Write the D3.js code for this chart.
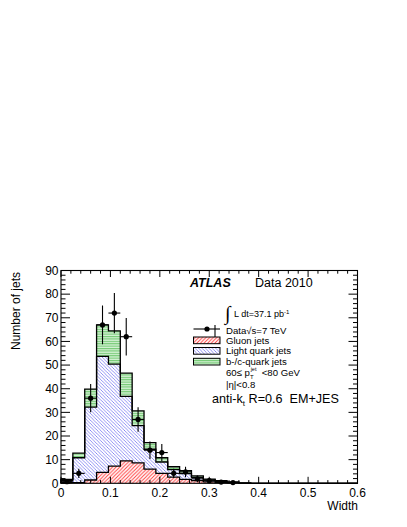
<!DOCTYPE html>
<html>
<head>
<meta charset="utf-8">
<script src="https://cdnjs.cloudflare.com/ajax/libs/d3/7.8.5/d3.min.js"></script>
<style>
  body { margin: 0; background: #fff; }
  svg text { font-family: "Liberation Sans", Arial, Helvetica, sans-serif; fill: #000; }
</style>
</head>
<body>
<div id="chart"></div>
<script>
// Jet width, 60 <= pT < 80 GeV, |eta| < 0.8
var binLow = [0, 0.024, 0.048, 0.072, 0.096, 0.12, 0.144, 0.168, 0.192, 0.216, 0.24, 0.264, 0.288,
              0.312, 0.336, 0.36, 0.384, 0.408, 0.432, 0.456, 0.48, 0.504, 0.528, 0.552, 0.576];
var binWidth = 0.024;

var gluon = [0.3, 0.3, 1.4, 4.6, 7.3, 9.5, 8.6, 6.0, 4.2, 2.6, 1.7, 1.1, 0.6,
             0.3, 0.15, 0, 0, 0, 0, 0, 0, 0, 0, 0, 0];
var lightQuark = [1.0, 10.5, 30.8, 49.1, 43.1, 27.3, 15.8, 8.4, 4.8, 3.2, 2.4, 1.4, 0.8,
                  0.5, 0.25, 0.1, 0, 0, 0, 0, 0, 0, 0, 0, 0];
var heavyQuark = [0.4, 2.0, 7.6, 13.3, 14.1, 9.8, 6.2, 2.8, 1.8, 1.2, 1.2, 0.6, 0.4,
                  0.3, 0.2, 0.1, 0, 0, 0, 0, 0, 0, 0, 0, 0];

var dataVals = [0.7, 4.2, 36, 67, 72, 62, 27, 14, 13, 4.2, 4.8, 1.9, 1.1,
                0.5, 0.3, 0, 0, 0, 0, 0, 0, 0, 0, 0, 0];
var dataErr = [0.8, 2.0, 6.0, 8.2, 8.5, 7.9, 5.2, 3.7, 3.6, 2.0, 2.2, 1.4, 1.0,
               0.7, 0.5, 0, 0, 0, 0, 0, 0, 0, 0, 0, 0];

var xMajor = [0, 0.1, 0.2, 0.3, 0.4, 0.5, 0.6];
var yMajor = [0, 10, 20, 30, 40, 50, 60, 70, 80, 90];

var width = 407, height = 527;
var padLeft = 61, padRight = 357.5, padTop = 270.5, padBottom = 483.3;

var svg = d3.select("#chart").append("svg")
    .attr("width", width)
    .attr("height", height);

var x = d3.scaleLinear().domain([0, 0.6]).range([padLeft, padRight]);
var y = d3.scaleLinear().domain([0, 90]).range([padBottom, padTop]);

// hatch patterns
var defs = svg.append("defs");
function hatch(id, color, dir, gap, sw) {
    var p = defs.append("pattern")
        .attr("id", id)
        .attr("patternUnits", "userSpaceOnUse")
        .attr("width", gap).attr("height", gap);
    p.append("rect").attr("width", gap).attr("height", gap).attr("fill", "#fff");
    var d;
    if (dir == "/") {
        d = "M0," + gap + "L" + gap + ",0M-1,1L1,-1M" + (gap - 1) + "," + (gap + 1) + "L" + (gap + 1) + "," + (gap - 1);
    } else {
        d = "M0,0L" + gap + "," + gap + "M-1," + (gap - 1) + "L1," + (gap + 1) + "M" + (gap - 1) + ",-1L" + (gap + 1) + ",1";
    }
    p.append("path").attr("d", d)
        .style("stroke", color).style("stroke-width", sw).style("fill", "none");
}
hatch("redHatch", "#ff3b3b", "/", 3.6, 0.95);
hatch("blueHatch", "#5656ec", "\\", 3.4, 0.65);

var gp = defs.append("pattern")
    .attr("id", "greenHatch")
    .attr("patternUnits", "userSpaceOnUse")
    .attr("width", 4).attr("height", 2.4);
gp.append("rect").attr("width", 4).attr("height", 2.4).attr("fill", "#d6f2d6");
gp.append("rect").attr("width", 4).attr("height", 1.1).attr("fill", "#72c972");

// stack gluon, light, heavy
var rows = binLow.map(function(b, i) {
    return {low: b, gluon: gluon[i], light: lightQuark[i], heavy: heavyQuark[i]};
});
var series = d3.stack().keys(["gluon", "light", "heavy"])(rows);

function steps(layer) {
    var pts = [];
    layer.forEach(function(d) {
        pts.push({x: d.data.low, y1: d[1]});
        pts.push({x: d.data.low + binWidth, y1: d[1]});
    });
    return pts;
}

var area = d3.area()
    .x(function(d) { return x(d.x); })
    .y0(function(d) { return y(0); })
    .y1(function(d) { return y(d.y1); });

var outline = d3.line()
    .x(function(d) { return x(d.x); })
    .y(function(d) { return y(d.y1); });

var fills = ["url(#redHatch)", "url(#blueHatch)", "url(#greenHatch)"];
var histG = svg.append("g");
// draw from top of stack down so lower layers cover upper ones
for (var k = series.length - 1; k >= 0; k--) {
    var pts = steps(series[k]);
    histG.append("path").attr("d", area(pts)).attr("fill", "#fff");
    histG.append("path").attr("d", area(pts)).attr("fill", fills[k]);
}
for (var k = series.length - 1; k >= 0; k--) {
    var pts = steps(series[k]);
    pts.unshift({x: 0, y1: 0});
    pts.push({x: 0.6, y1: 0});
    histG.append("path").attr("d", outline(pts))
        .attr("fill", "none")
        .attr("stroke", "#000")
        .attr("stroke-width", 1.3);
}

// data points
var pointRows = binLow.map(function(b, i) {
    return {c: b + binWidth / 2, v: dataVals[i], e: dataErr[i]};
}).filter(function(d) { return d.v > 0; });

var pG = svg.append("g").attr("stroke", "#000").attr("stroke-width", 1.1);
pG.selectAll("line.v").data(pointRows).enter().append("line")
    .attr("x1", function(d) { return x(d.c); })
    .attr("x2", function(d) { return x(d.c); })
    .attr("y1", function(d) { return y(Math.max(0, d.v - d.e)); })
    .attr("y2", function(d) { return y(d.v + d.e); });
pG.selectAll("line.h").data(pointRows).enter().append("line")
    .attr("x1", function(d) { return x(d.c - binWidth / 2); })
    .attr("x2", function(d) { return x(d.c + binWidth / 2); })
    .attr("y1", function(d) { return y(d.v); })
    .attr("y2", function(d) { return y(d.v); });
svg.append("g").selectAll("circle").data(pointRows).enter().append("circle")
    .attr("cx", function(d) { return x(d.c); })
    .attr("cy", function(d) { return y(d.v); })
    .attr("r", 2.6)
    .attr("fill", "#000");

// frame and ticks (ROOT style, inside, all four sides)
svg.append("rect")
    .attr("x", padLeft).attr("y", padTop)
    .attr("width", padRight - padLeft).attr("height", padBottom - padTop)
    .attr("fill", "none").attr("stroke", "#000").attr("stroke-width", 1.1);

var xMinor = d3.range(0, 61, 2).map(function(v) { return v / 100; });
var yMinor = d3.range(0, 91, 2);
var tickG = svg.append("g").attr("stroke", "#000").attr("stroke-width", 1);
xMinor.forEach(function(v) {
    var len = xMajor.some(function(m) { return Math.abs(m - v) < 1e-9; }) ? 6.5 : 3.2;
    tickG.append("line").attr("x1", x(v)).attr("x2", x(v)).attr("y1", padBottom).attr("y2", padBottom - len);
    tickG.append("line").attr("x1", x(v)).attr("x2", x(v)).attr("y1", padTop).attr("y2", padTop + len);
});
yMinor.forEach(function(v) {
    var len = v % 10 == 0 ? 9 : 4.5;
    tickG.append("line").attr("x1", padLeft).attr("x2", padLeft + len).attr("y1", y(v)).attr("y2", y(v));
    tickG.append("line").attr("x1", padRight).attr("x2", padRight - len).attr("y1", y(v)).attr("y2", y(v));
});

// tick labels
svg.append("g").selectAll("text").data(xMajor).enter().append("text")
    .attr("x", function(d) { return x(d); })
    .attr("y", 497)
    .attr("text-anchor", "middle")
    .style("font-size", "12px")
    .text(function(d) { return d == 0 ? "0" : d3.format(".1f")(d); });
svg.append("g").selectAll("text").data(yMajor).enter().append("text")
    .attr("x", 58.5)
    .attr("y", function(d) { return y(d) + 4.3; })
    .attr("text-anchor", "end")
    .style("font-size", "12px")
    .text(function(d) { return d; });

// axis titles
svg.append("text")
    .attr("x", 358).attr("y", 510)
    .attr("text-anchor", "end")
    .style("font-size", "12px")
    .text("Width");
svg.append("text")
    .attr("transform", "translate(19.5,272) rotate(-90)")
    .attr("text-anchor", "end")
    .style("font-size", "12px")
    .text("Number of jets");

// labels
svg.append("text")
    .attr("x", 190).attr("y", 287)
    .style("font-size", "12.5px").style("font-weight", "bold").style("font-style", "italic")
    .text("ATLAS");
svg.append("text")
    .attr("x", 255).attr("y", 287)
    .style("font-size", "12.5px")
    .text("Data 2010");

svg.append("text")
    .attr("x", 225).attr("y", 320)
    .style("font-family", "DejaVu Sans").style("font-size", "20px").style("font-weight", "200")
    .text("\u222B");
var lum = svg.append("text").attr("x", 234).attr("y", 317).style("font-size", "9px");
lum.append("tspan").text("L dt=37.1 pb");
lum.append("tspan").attr("dy", -3.5).style("font-size", "6px").text("-1");

// legend
var fs = "9.6px";
var lg = svg.append("g");
lg.append("line").attr("x1", 193.5).attr("x2", 220).attr("y1", 329).attr("y2", 329)
    .attr("stroke", "#000").attr("stroke-width", 1.1);
lg.append("line").attr("x1", 215).attr("x2", 215).attr("y1", 325).attr("y2", 339)
    .attr("stroke", "#000").attr("stroke-width", 1.1);
lg.append("circle").attr("cx", 207).attr("cy", 329).attr("r", 2.6).attr("fill", "#000");
lg.append("text").attr("x", 226).attr("y", 333.5).style("font-size", fs).text("Data\u221As=7 TeV");

var legItems = [
    {label: "Gluon jets", fill: "url(#redHatch)", y: 337},
    {label: "Light quark jets", fill: "url(#blueHatch)", y: 347.5},
    {label: "b-/c-quark jets", fill: "url(#greenHatch)", y: 358.3}
];
legItems.forEach(function(d) {
    lg.append("rect").attr("x", 193.5).attr("y", d.y).attr("width", 26.5).attr("height", 6.7)
        .attr("fill", d.fill).attr("stroke", "#000").attr("stroke-width", 1);
    lg.append("text").attr("x", 226).attr("y", d.y + 6.7).style("font-size", fs).text(d.label);
});

var pt = lg.append("text").attr("x", 226).attr("y", 375.5).style("font-size", fs);
pt.append("tspan").text("60\u2264 p");
pt.append("tspan").attr("dy", 3).style("font-size", "6px").text("T");
pt.append("tspan").attr("dx", -3).attr("dy", -7.5).style("font-size", "5.5px").text("jet");
pt.append("tspan").attr("dy", 4.5).text("\u00A0\u00A0<80 GeV");

lg.append("text").attr("x", 226).attr("y", 387.5).style("font-size", fs).text("|\u03B7|<0.8");

var ak = svg.append("text").attr("x", 212).attr("y", 403).style("font-size", "12.6px");
ak.append("tspan").text("anti-k");
ak.append("tspan").attr("dy", 2.5).style("font-size", "8px").text("t");
ak.append("tspan").attr("dy", -2.5).text("\u00A0R=0.6\u00A0\u00A0EM+JES");
</script>
</body>
</html>
